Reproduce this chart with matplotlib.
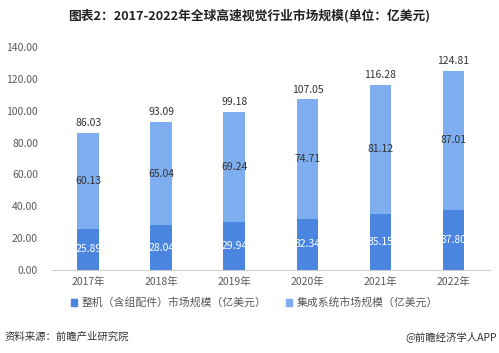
import matplotlib.pyplot as plt
from matplotlib.patches import Patch

plt.rcParams['font.family'] = ['Noto Sans CJK SC', 'DejaVu Sans']

years = ["2017年", "2018年", "2019年", "2020年", "2021年", "2022年"]
machine = [25.89, 28.04, 29.94, 32.34, 35.15, 37.80]
system = [60.13, 65.04, 69.24, 74.71, 81.12, 87.01]
totals = [86.03, 93.09, 99.18, 107.05, 116.28, 124.81]
yticks = [0, 20, 40, 60, 80, 100, 120, 140]

c_dark = "#4a86e0"
c_light = "#7eaef0"
grey = "#595959"

fig = plt.figure(figsize=(4.99, 3.53), dpi=100)
ax = fig.add_axes([0.104, 0.235, 0.878, 0.632])

x = range(len(years))
ax.bar(x, machine, width=0.3, color=c_dark)
ax.bar(x, system, width=0.3, bottom=machine, color=c_light)

for i in x:
    ax.text(i, machine[i] / 2, f"{machine[i]:.2f}", ha="center", va="center",
            color="white", fontsize=7.5)
    ax.text(i, machine[i] + system[i] / 2, f"{system[i]:.2f}", ha="center",
            va="center", color="#333333", fontsize=7.5)
    ax.text(i, totals[i] + 3, f"{totals[i]:.2f}", ha="center", va="bottom",
            color="#333333", fontsize=7.5)

ax.set_xlim(-0.5, 5.5)
ax.set_ylim(0, 140)
ax.set_yticks(yticks)
ax.set_yticklabels([f"{v:.2f}" for v in yticks])
ax.set_xticks(list(x))
ax.set_xticklabels(years)
ax.tick_params(axis="both", length=0, colors=grey, labelsize=7.5)
ax.tick_params(axis="y", pad=10)
ax.tick_params(axis="x", pad=5)
for s in ["top", "right", "left"]:
    ax.spines[s].set_visible(False)
ax.spines["bottom"].set_color("#d0d0d0")

fig.text(0.5, 0.955, "图表2：2017-2022年全球高速视觉行业市场规模(单位：亿美元)",
         ha="center", va="center", fontsize=9.2, fontweight="bold", color="#222222")

handles = [Patch(color=c_dark, label="整机（含组配件）市场规模（亿美元）"),
           Patch(color=c_light, label="集成系统市场规模（亿美元）")]
fig.legend(handles=handles, loc="center", bbox_to_anchor=(0.51, 0.142), ncol=2,
           frameon=False, fontsize=7.8, handlelength=0.6, handleheight=0.6,
           columnspacing=1.8, handletextpad=0.4, labelcolor=grey)

fig.text(0.01, 0.045, "资料来源：前瞻产业研究院", ha="left", va="center",
         fontsize=7.5, color="#333333")
fig.text(0.995, 0.045, "@前瞻经济学人APP", ha="right", va="center",
         fontsize=7.5, color="#333333")

fig.savefig("out.png", dpi=100)
